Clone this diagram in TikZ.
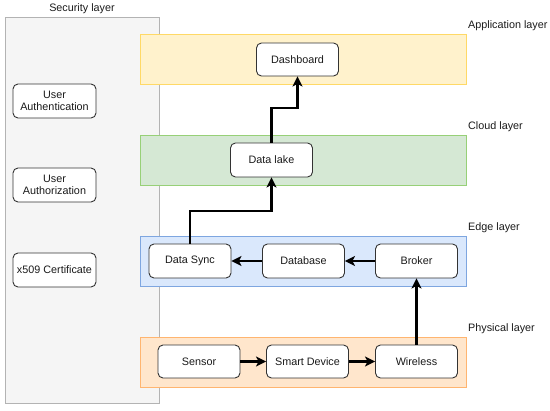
\documentclass[tikz,border=0pt]{standalone}
\usepackage{fontspec}
\setmainfont{Liberation Sans}
\usetikzlibrary{arrows.meta}
\definecolor{secfill}{HTML}{F5F5F5}
\definecolor{secdraw}{HTML}{B3B3B3}
\definecolor{appfill}{HTML}{FFF2CC}
\definecolor{appdraw}{HTML}{FFD966}
\definecolor{cloudfill}{HTML}{D5E8D4}
\definecolor{clouddraw}{HTML}{97D077}
\definecolor{edgefill}{HTML}{DAE8FC}
\definecolor{edgedraw}{HTML}{7EA6E0}
\definecolor{physfill}{HTML}{FFE6CC}
\definecolor{physdraw}{HTML}{FFB570}
\definecolor{boxdraw}{HTML}{333333}
\definecolor{txt}{HTML}{1A1A1A}
\tikzset{
  box/.style={draw=boxdraw, line width=0.9pt, fill=white, rounded corners=5pt,
    minimum width=82pt, minimum height=34pt, inner sep=0pt, align=center,
    font=\fontsize{10.8}{12.5}\selectfont, text=txt},
  band/.style={line width=0.9pt},
  lbl/.style={font=\fontsize{10.8}{12.5}\selectfont, text=txt, inner sep=0pt},
  flow/.style={line width=2.6pt, -{Stealth[length=10pt,width=10pt,inset=2.5pt]}}
}
\begin{document}
\begin{tikzpicture}[x=1pt,y=-1pt]
\useasboundingbox (0,0) rectangle (550,411);
% security layer
\draw[band, fill=secfill, draw=secdraw] (5,17) rectangle (159,403);
\node[lbl] (seclbl) at (82,9) {Security layer};
\node[box, minimum width=83pt] (auth) at (54.5,101) {User\\Authentication};
\node[box, minimum width=83pt] (authz) at (54.5,185) {User\\Authorization};
\node[box, minimum width=83pt] (x509) at (54.5,270) {x509 Certificate};
% bands
\draw[band, fill=appfill, draw=appdraw] (140,34) rectangle (466,84);
\draw[band, fill=cloudfill, draw=clouddraw] (140,135) rectangle (466,185);
\draw[band, fill=edgefill, draw=edgedraw] (140,236) rectangle (466,286);
\draw[band, fill=physfill, draw=physdraw] (140,337) rectangle (466,387);
\node[lbl, anchor=west] (applbl) at (468,26) {Application layer};
\node[lbl, anchor=west] (cloudlbl) at (468,127) {Cloud layer};
\node[lbl, anchor=west] (edgelbl) at (468,228) {Edge layer};
\node[lbl, anchor=west] (physlbl) at (468,329) {Physical layer};
% nodes
\node[box, minimum height=33pt] (dash) at (297.5,59.5) {Dashboard};
\node[box] (lake) at (271.5,160) {Data lake};
\node[box] (sync) at (190,261) {Data Sync};
\node[box] (db) at (303.5,261) {Database};
\node[box] (broker) at (416.5,261) {Broker};
\node[box, minimum height=33pt] (sensor) at (199,361.5) {Sensor};
\node[box, minimum height=33pt] (smart) at (307.5,361.5) {Smart Device};
\node[box, minimum height=33pt] (wireless) at (416.5,361.5) {Wireless};
% connectors
\coordinate (j1) at (0,211);
\coordinate (j2) at (0,108);
\draw[flow] (sync.north) -- (sync.north |- j1) -| (lake.south);
\draw[flow] (lake.north) -- (lake.north |- j2) -| (dash.south);
\draw[flow] (broker) -- (db);
\draw[flow] (db) -- (sync);
\draw[flow] (sensor) -- (smart);
\draw[flow] (smart) -- (wireless);
\draw[flow] (wireless) -- (broker);
\end{tikzpicture}
\end{document}
